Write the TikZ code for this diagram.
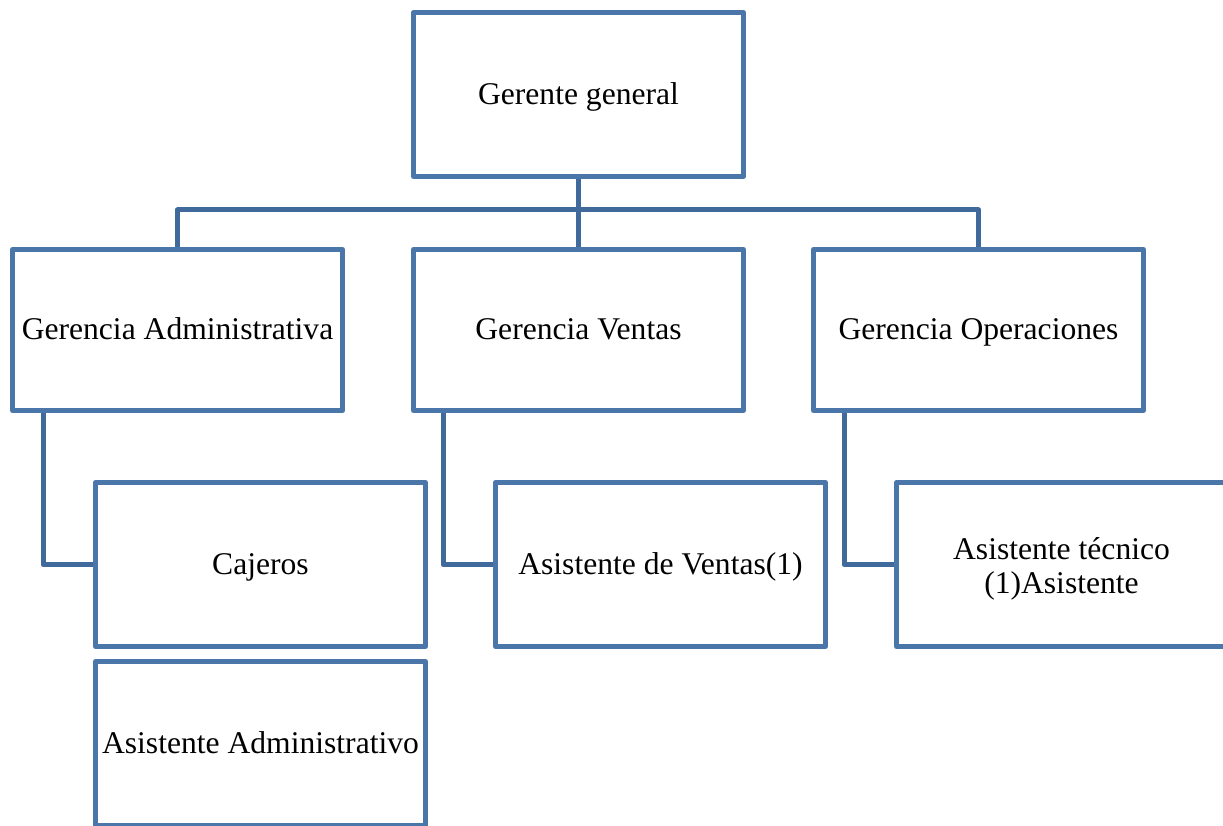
\documentclass[tikz,border=0pt]{standalone}
\usepackage{fontspec}
\setmainfont{Liberation Serif}
\definecolor{boxblue}{RGB}{74,118,170}
\definecolor{linkblue}{RGB}{64,106,156}
\begin{document}
\begin{tikzpicture}[x=1pt,y=-1pt,
  orgbox/.style={draw=boxblue, line width=5pt, line join=round, fill=white,
    rectangle, inner sep=0pt, minimum width=330pt, minimum height=164pt,
    align=center, font=\fontsize{31.6}{34}\selectfont},
  oneline/.style={orgbox, text height=26pt, text depth=6.6pt},
  midbox/.style={oneline, minimum height=161pt},
  link/.style={draw=linkblue, line width=5pt, line join=round}]
\useasboundingbox (0,0) rectangle (1223,826);
\clip (0,0) rectangle (1223,826);
\fill[white] (0,0) rectangle (1223,826);
% nodes
\node[oneline] (gg) at (578.5,94.5) {Gerente general};
\node[midbox] (ga) at (177.5,330) {Gerencia Administrativa};
\node[midbox] (gv) at (578.5,330) {Gerencia Ventas};
\node[midbox] (go) at (978.5,330) {Gerencia Operaciones};
\node[oneline] (caj) at (260.5,564.5) {Cajeros};
\node[oneline] (aadm) at (260.5,743.5) {Asistente Administrativo};
\node[oneline] (av) at (660.5,564.5) {Asistente de Ventas(1)};
\node[orgbox] (at) at (1061.5,564.5) {\rule{0pt}{31pt}Asistente técnico\\(1)Asistente};
% top connectors
\coordinate (bar) at (578.5,210);
\draw[link] (gg.south) -- (bar);
\draw[link] (ga.north) |- (bar) -| (go.north);
\draw[link] (bar) -- (gv.north);
% side connectors
\draw[link] ([xshift=33pt]ga.south west) |- (caj.west);
\draw[link] ([xshift=32pt]gv.south west) |- (av.west);
\draw[link] ([xshift=33pt]go.south west) |- (at.west);
\end{tikzpicture}
\end{document}
